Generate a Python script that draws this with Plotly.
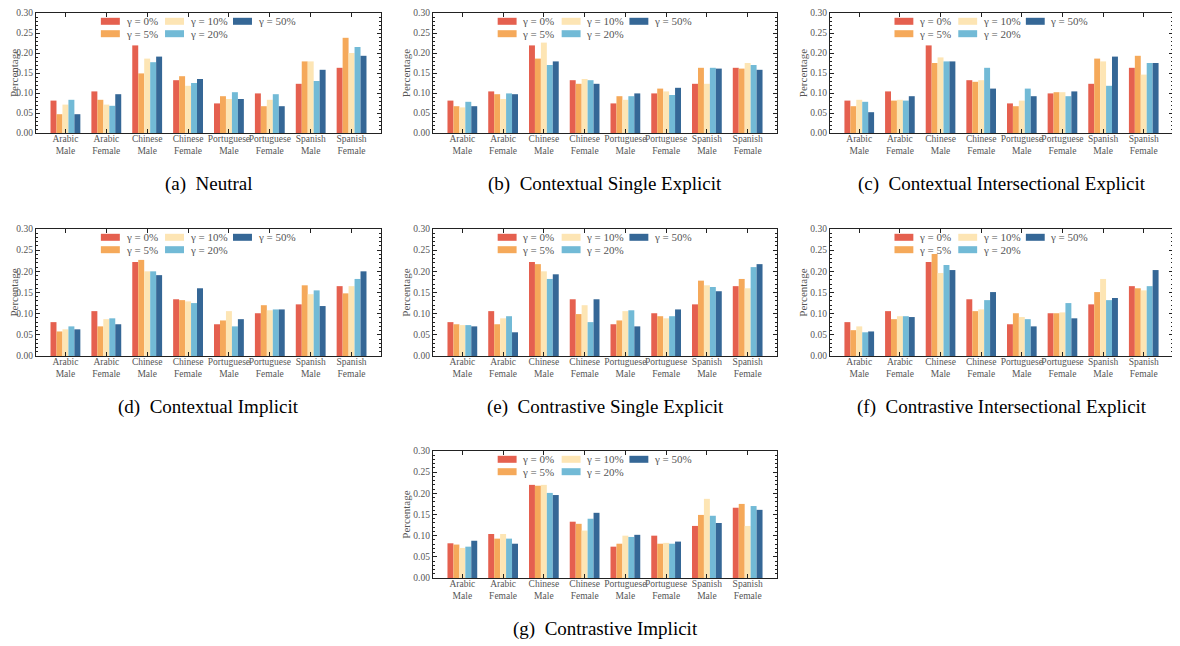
import plotly.graph_objects as go

categories = ["Arabic<br>Male", "Arabic<br>Female", "Chinese<br>Male", "Chinese<br>Female",
              "Portuguese<br>Male", "Portuguese<br>Female", "Spanish<br>Male", "Spanish<br>Female"]
gammas = ["0%", "5%", "10%", "20%", "50%"]
colors = ["#E5604F", "#F5A95A", "#FDE5B4", "#72BAD6", "#356796"]

# one row per gamma (0, 5, 10, 20, 50), one value per category
neutral = [
    [0.081, 0.104, 0.219, 0.132, 0.074, 0.099, 0.123, 0.163],
    [0.047, 0.083, 0.149, 0.142, 0.092, 0.067, 0.179, 0.238],
    [0.071, 0.071, 0.186, 0.118, 0.085, 0.083, 0.179, 0.200],
    [0.083, 0.068, 0.177, 0.125, 0.102, 0.097, 0.130, 0.215],
    [0.047, 0.097, 0.191, 0.135, 0.085, 0.067, 0.158, 0.193],
]
ctx_single = [
    [0.081, 0.104, 0.219, 0.132, 0.074, 0.099, 0.123, 0.163],
    [0.067, 0.097, 0.186, 0.123, 0.092, 0.111, 0.163, 0.161],
    [0.064, 0.085, 0.226, 0.135, 0.083, 0.104, 0.123, 0.175],
    [0.078, 0.099, 0.170, 0.132, 0.092, 0.095, 0.163, 0.170],
    [0.067, 0.097, 0.179, 0.123, 0.099, 0.113, 0.161, 0.158],
]
ctx_inter = [
    [0.081, 0.104, 0.219, 0.132, 0.074, 0.099, 0.123, 0.163],
    [0.067, 0.081, 0.175, 0.128, 0.067, 0.102, 0.186, 0.193],
    [0.083, 0.083, 0.189, 0.132, 0.081, 0.102, 0.179, 0.146],
    [0.078, 0.081, 0.179, 0.163, 0.111, 0.092, 0.118, 0.175],
    [0.052, 0.092, 0.179, 0.111, 0.092, 0.104, 0.191, 0.175],
]
ctx_implicit = [
    [0.080, 0.106, 0.222, 0.134, 0.075, 0.101, 0.122, 0.165],
    [0.058, 0.070, 0.227, 0.132, 0.084, 0.120, 0.167, 0.148],
    [0.063, 0.087, 0.200, 0.129, 0.106, 0.108, 0.146, 0.165],
    [0.070, 0.089, 0.200, 0.125, 0.070, 0.110, 0.155, 0.182],
    [0.063, 0.075, 0.191, 0.160, 0.087, 0.110, 0.118, 0.200],
]
con_single = [
    [0.080, 0.106, 0.222, 0.134, 0.075, 0.101, 0.122, 0.165],
    [0.075, 0.075, 0.217, 0.099, 0.084, 0.094, 0.178, 0.182],
    [0.073, 0.089, 0.200, 0.120, 0.106, 0.089, 0.167, 0.160],
    [0.073, 0.094, 0.182, 0.080, 0.108, 0.094, 0.163, 0.210],
    [0.070, 0.056, 0.193, 0.134, 0.070, 0.110, 0.153, 0.217],
]
con_inter = [
    [0.080, 0.106, 0.222, 0.134, 0.075, 0.101, 0.122, 0.165],
    [0.061, 0.087, 0.241, 0.106, 0.101, 0.101, 0.151, 0.160],
    [0.070, 0.094, 0.196, 0.110, 0.092, 0.103, 0.182, 0.155],
    [0.056, 0.094, 0.215, 0.132, 0.087, 0.125, 0.132, 0.165],
    [0.058, 0.092, 0.203, 0.151, 0.070, 0.089, 0.137, 0.203],
]
con_implicit = [
    [0.082, 0.104, 0.220, 0.133, 0.074, 0.100, 0.123, 0.166],
    [0.079, 0.093, 0.218, 0.128, 0.081, 0.081, 0.149, 0.175],
    [0.071, 0.104, 0.220, 0.112, 0.100, 0.083, 0.187, 0.123],
    [0.074, 0.093, 0.201, 0.140, 0.097, 0.081, 0.147, 0.170],
    [0.088, 0.081, 0.196, 0.154, 0.102, 0.086, 0.130, 0.161],
]

panels = [
    ("(a)  Neutral", neutral),
    ("(b)  Contextual Single Explicit", ctx_single),
    ("(c)  Contextual Intersectional Explicit", ctx_inter),
    ("(d)  Contextual Implicit", ctx_implicit),
    ("(e)  Contrastive Single Explicit", con_single),
    ("(f)  Contrastive Intersectional Explicit", con_inter),
    ("(g)  Contrastive Implicit", con_implicit),
]

W, H = 1180, 646
off = 8  # page body margin shifts the whole figure
col_px = [(36 - off, 381 - off), (433 - off, 777 - off), (830 - off, 1173 - off)]
row_px = [(5, 133 - off), (229 - off, 356 - off), (451 - off, 578 - off)]
cells = [(0, 0), (0, 1), (0, 2), (1, 0), (1, 1), (1, 2), (2, 1)]

serif = "Liberation Serif, Times New Roman, serif"
tick_font = dict(family=serif, size=9.5, color="#555555")

fig = go.Figure()
shapes = []
annotations = []

# legend layout: column-major, 3 columns x 2 rows like matplotlib ncol=3
leg_cols = [0.188, 0.374, 0.571]
leg_pos = [(0, 0), (1, 0), (0, 1), (1, 1), (0, 2)]
leg_drop = [8.3, 20.7]  # px below panel top

for i, ((title, data), (r, c)) in enumerate(zip(panels, cells)):
    n = "" if i == 0 else str(i + 1)
    xa, ya = "x" + n, "y" + n
    for g, vals in enumerate(data):
        fig.add_trace(go.Bar(x=categories, y=vals, xaxis=xa, yaxis=ya,
                             marker=dict(color=colors[g], line=dict(width=0)),
                             name="γ = " + gammas[g], showlegend=False))
    x0, x1 = col_px[c]
    y0, y1 = row_px[r]
    ph = y1 - y0
    axis_common = dict(showline=True, linecolor="#222222", linewidth=1.3, mirror="allticks",
                       ticks="inside", ticklen=4, tickcolor="#222222", tickfont=tick_font,
                       showgrid=False, zeroline=False, automargin=False, ticklabeloverflow="allow")
    fig.layout["xaxis" + n] = dict(domain=[x0 / W, x1 / W], anchor=ya, type="category",
                                   range=[-0.72, 7.72], tickangle=0, ticklabelstandoff=-4,
                                   **axis_common)
    fig.layout["yaxis" + n] = dict(domain=[1 - y1 / H, 1 - y0 / H], anchor=xa,
                                   range=[0, 0.30], dtick=0.05, tickformat=".2f",
                                   minor=dict(ticks="inside", ticklen=2, dtick=0.01, tickcolor="#222222"),
                                   title=dict(text="Percentage", font=dict(family=serif, size=11, color="#555555"),
                                              standoff=0),
                                   **axis_common)
    for g, (lr, lc) in enumerate(leg_pos):
        lx = leg_cols[lc]
        ly = 1 - leg_drop[lr] / ph
        hh = 3.5 / ph
        shapes.append(dict(type="rect", xref=xa + " domain", yref=ya + " domain",
                           x0=lx, x1=lx + 0.055, y0=ly - hh, y1=ly + hh,
                           fillcolor=colors[g], line=dict(width=0)))
        annotations.append(dict(xref=xa + " domain", yref=ya + " domain", x=lx + 0.066, y=ly,
                                xanchor="left", yanchor="middle", showarrow=False,
                                text="γ = " + gammas[g], font=dict(family=serif, size=11, color="#555555")))
    # caption
    annotations.append(dict(xref="paper", yref="paper", x=(x0 + x1) / 2 / W,
                            y=1 - (y1 + 51) / H, xanchor="center", yanchor="middle",
                            showarrow=False, text=title,
                            font=dict(family=serif, size=19, color="#000000")))

fig.update_layout(width=W, height=H, margin=dict(l=0, r=0, t=0, b=0),
                  paper_bgcolor="white", plot_bgcolor="white",
                  barmode="group", bargap=0.27, bargroupgap=0,
                  showlegend=False, shapes=shapes, annotations=annotations)

fig.write_html("out.html")
